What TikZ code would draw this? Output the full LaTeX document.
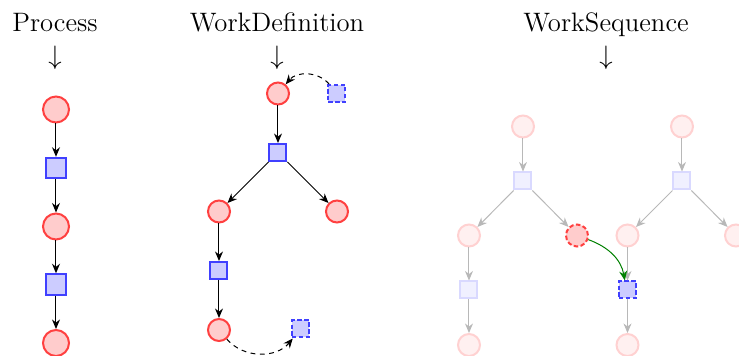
\documentclass[tikz,border=0pt]{standalone}
\usetikzlibrary{arrows.meta}
\begin{document}
\begin{tikzpicture}[x=0.45pt,y=-0.45pt,
  every node/.style={inner sep=0pt},
  title/.style={font=\fontsize{12}{14}\selectfont, anchor=base},
  darr/.style={font=\fontsize{12}{14}\selectfont},
  place/.style={circle, draw=red!75, fill=red!20, line width=0.9pt, minimum size=11.7pt},
  trans/.style={rectangle, draw=blue!75, fill=blue!20, line width=0.9pt, minimum size=9.2pt},
  splace/.style={place, minimum size=9.9pt},
  strans/.style={trans, minimum size=7.65pt},
  fplace/.style={splace, draw=red!18, fill=red!6},
  ftrans/.style={strans, draw=blue!15, fill=blue!6},
  ghost/.style={dash pattern=on 2pt off 1.1pt},
  arr/.style={-{Stealth[length=4.3pt,width=3.6pt,inset=1.4pt]}, line width=0.45pt},
  farr/.style={arr, draw=black!28},
  darr2/.style={arr, dash pattern=on 2.2pt off 2pt},
]
\useasboundingbox (0,0) rectangle (739,356);

% titles
\node[title] (t1) at (55,31.5) {Process};
\node[darr] (a1) at (55,58) {$\downarrow$};
\node[title] (t2) at (277,31.5) {WorkDefinition};
\node[darr] (a2) at (277,58) {$\downarrow$};
\node[title] (t3) at (606,31.5) {WorkSequence};
\node[darr] (a3) at (606,58) {$\downarrow$};

% Process
\node[place] (p1) at (56,109.5) {};
\node[trans] (p2) at (56,168) {};
\node[place] (p3) at (56,226.5) {};
\node[trans] (p4) at (56,284.5) {};
\node[place] (p5) at (56,343) {};
\draw[arr] (p1) -- (p2);
\draw[arr] (p2) -- (p3);
\draw[arr] (p3) -- (p4);
\draw[arr] (p4) -- (p5);

% WorkDefinition
\node[splace] (w1) at (278,93.5) {};
\node[strans,ghost] (wg1) at (337,93.5) {};
\node[strans] (w2) at (278,152.5) {};
\node[splace] (w3) at (219,211.5) {};
\node[splace] (w4) at (337,211.5) {};
\node[strans] (w5) at (219,270.5) {};
\node[splace] (w6) at (219,330) {};
\node[strans,ghost] (wg2) at (300.5,329) {};
\draw[arr] (w1) -- (w2);
\draw[arr] (w2) -- (w3);
\draw[arr] (w2) -- (w4);
\draw[arr] (w3) -- (w5);
\draw[arr] (w5) -- (w6);
\draw[darr2] (wg1) to[bend right=50] (w1);
\draw[darr2] (w6) to[bend right=50] (wg2);

% WorkSequence left
\node[fplace] (l1) at (523,126.5) {};
\node[ftrans] (l2) at (523,181) {};
\node[fplace] (l3) at (469,235.5) {};
\node[splace,ghost] (l4) at (577,235.5) {};
\node[ftrans] (l5) at (469,290) {};
\node[fplace] (l6) at (469,345) {};
\draw[farr] (l1) -- (l2);
\draw[farr] (l2) -- (l3);
\draw[farr] (l2) -- (l4);
\draw[farr] (l3) -- (l5);
\draw[farr] (l5) -- (l6);

% WorkSequence right
\node[fplace] (r1) at (682,126.5) {};
\node[ftrans] (r2) at (682,181) {};
\node[fplace] (r3) at (627.5,235.5) {};
\node[fplace] (r4) at (736,235.5) {};
\node[strans,ghost] (r5) at (627.5,290) {};
\node[fplace] (r6) at (627.5,345) {};
\draw[farr] (r1) -- (r2);
\draw[farr] (r2) -- (r3);
\draw[farr] (r2) -- (r4);
\draw[farr] (r3) -- (r5);
\draw[farr] (r5) -- (r6);

\draw[arr, draw=green!50!black] (l4) to[out=-20, in=100] ([xshift=-1.2pt]r5.north);
\end{tikzpicture}
\end{document}
